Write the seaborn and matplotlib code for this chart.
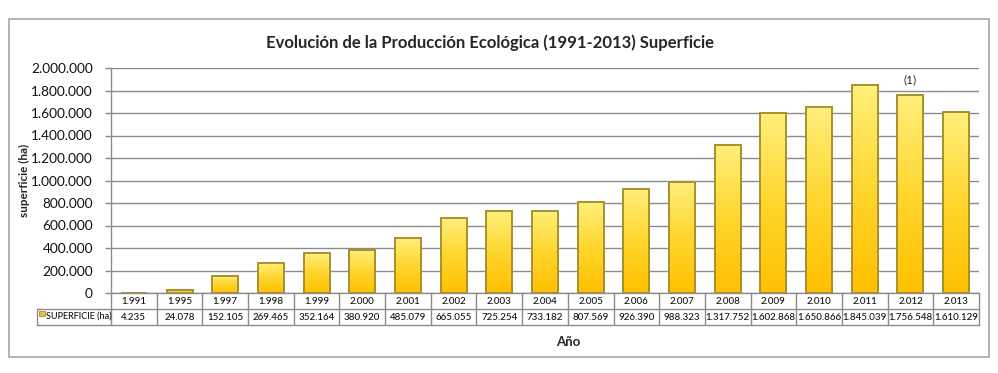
import numpy as np
import pandas as pd
import matplotlib
matplotlib.use("Agg")
import matplotlib.pyplot as plt
import seaborn as sns
from matplotlib.lines import Line2D
from matplotlib.patches import Rectangle

years = ["1.991", "1.995", "1.997", "1.998", "1.999", "2.000", "2.001", "2.002",
         "2.003", "2.004", "2.005", "2.006", "2.007", "2.008", "2.009", "2.010",
         "2.011", "2.012", "2.013"]
values = [4235, 24078, 152105, 269465, 352164, 380920, 485079, 665055, 725254,
          733182, 807569, 926390, 988323, 1317752, 1602868, 1650866, 1845039,
          1756548, 1610129]
series_label = "SUPERFICIE (ha)"
y_ticks = [0, 200000, 400000, 600000, 800000, 1000000, 1200000, 1400000,
           1600000, 1800000, 2000000]
title = "Evolución de la Producción Ecológica (1991-2013) Superficie"
note = "(1)"
note_index = 17


def fmt(v):
    return f"{v:,}".replace(",", ".")


sns.set_theme(style="white")
plt.rcParams["font.family"] = ["Lato", "DejaVu Sans"]

W, H = 998, 373
fig = plt.figure(figsize=(W / 100, H / 100), dpi=100)


def fx(px):
    return px / W


def fy(py):
    return 1 - py / H


L, R, T, B = 111, 979, 68, 293
ax = fig.add_axes([fx(L), fy(B), fx(R - L), fy(T) - fy(B)])

df = pd.DataFrame({"year": years, "value": values})
sns.barplot(data=df, x="year", y="value", ax=ax, color="#FFD700",
            width=0.57, edgecolor="none", linewidth=0, zorder=3)
n = len(years)

# gradient fill for bars
grad = np.linspace(0, 1, 256).reshape(-1, 1)
cmap = matplotlib.colors.LinearSegmentedColormap.from_list(
    "g", ["#FFC000", "#FFD62E", "#FFEF7C"])
for p in list(ax.patches):
    x0, y0 = p.get_x(), p.get_y()
    w, h = p.get_width(), p.get_height()
    p.set_facecolor("none")
    im = ax.imshow(grad, cmap=cmap, origin="lower", aspect="auto",
                   extent=[x0, x0 + w, y0, y0 + h], zorder=3)
    im.set_clip_path(p)
    edge = Rectangle((x0, y0), w, h, facecolor="none", edgecolor="#A8902E",
                     linewidth=1.4, zorder=4)
    ax.add_patch(edge)
ax.set_xlim(-0.5, n - 0.5)
ax.set_ylim(0, 2000000)

ax.set_yticks(y_ticks)
ax.set_yticklabels([fmt(v) for v in y_ticks], fontsize=9.8)
ax.yaxis.grid(True, color="#8C8C8C", linewidth=1, zorder=0)
ax.set_axisbelow(True)
ax.tick_params(axis="y", length=4, width=1, color="#8C8C8C", pad=9, left=True,
               labelcolor="#111111")
ax.set_xticks([])
ax.set_xlabel("")
ax.set_ylabel("")
for s in ["top", "right"]:
    ax.spines[s].set_visible(False)
for s in ["left", "bottom"]:
    ax.spines[s].set_color("#8C8C8C")
    ax.spines[s].set_linewidth(1)

# annotation
ax.annotate(note, xy=(note_index, values[note_index]), xytext=(0, 11),
            textcoords="offset points", ha="center", va="center", fontsize=8.5)

# data table below
line_c = "#8C8C8C"
r1, r2 = 309, 325


def xpx(i):
    return L + (R - L) * (i / n)


fig.add_artist(Line2D([fx(37), fx(R)], [fy(r1), fy(r1)], color=line_c, lw=1))
fig.add_artist(Line2D([fx(37), fx(R)], [fy(r2), fy(r2)], color=line_c, lw=1))
for i in range(n + 1):
    xp = xpx(i)
    fig.add_artist(Line2D([fx(xp), fx(xp)], [fy(B), fy(r2)], color=line_c, lw=1))
fig.add_artist(Line2D([fx(37), fx(37)], [fy(r1), fy(r2)], color=line_c, lw=1))
for i, (yr, v) in enumerate(zip(years, values)):
    xc = (xpx(i) + xpx(i + 1)) / 2
    fig.text(fx(xc), fy((B + r1) / 2 + 0.5), yr, ha="center", va="center",
             fontsize=7, fontweight="medium", color="#111111")
    fig.text(fx(xc), fy((r1 + r2) / 2 + 0.5), fmt(v), ha="center", va="center",
             fontsize=7, fontweight="medium", color="#111111")
fig.add_artist(Rectangle((fx(39), fy(316)), fx(6), fy(311) - fy(316),
                         facecolor="#E8C040", edgecolor="#A8902E", lw=0.6))
fig.text(fx(46), fy((r1 + r2) / 2 + 0.5), series_label, ha="left", va="center",
         fontsize=6.6, fontweight="medium", color="#111111")

# title and labels
fig.text(fx(490), fy(43), title, ha="center", va="center", fontsize=12,
         fontweight="bold")
fig.text(fx(24), fy(180), "superficie (ha)", ha="center", va="center",
         rotation=90, fontsize=8.5, fontweight="bold")
fig.text(fx(568), fy(342), "Año", ha="center", va="center", fontsize=9.5,
         fontweight="bold")

# outer border
fig.add_artist(Rectangle((fx(9), fy(357)), fx(989 - 9), fy(19) - fy(357),
                         facecolor="none", edgecolor="#A6A6A6", lw=1.2))

fig.savefig("out.png", dpi=100)
